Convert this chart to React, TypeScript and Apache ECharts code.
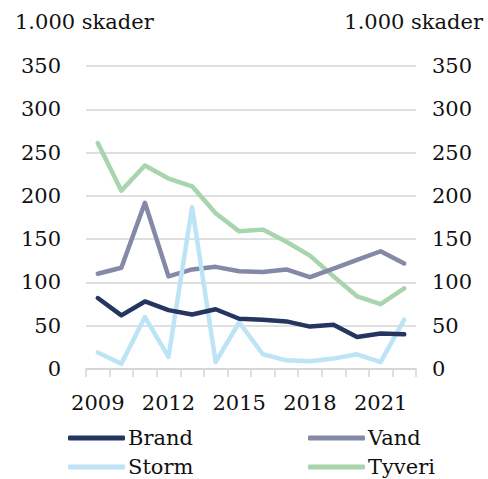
import React, { useEffect, useRef } from "react";
import * as echarts from "echarts";

const years = ["2009","2010","2011","2012","2013","2014","2015","2016","2017","2018","2019","2020","2021","2022"];
const brand = [82, 62, 78, 68, 63, 69, 58, 57, 55, 49, 51, 37, 41, 40];
const vand = [110, 117, 192, 107, 115, 118, 113, 112, 115, 106, 116, 126, 136, 122];
const storm = [19, 6, 60, 14, 187, 8, 54, 17, 10, 9, 12, 17, 8, 57];
const tyveri = [261, 206, 235, 220, 211, 180, 159, 161, 147, 131, 107, 84, 75, 93];
const yTicks = { min: 0, max: 350, interval: 50 };

const FONT = "DejaVu Serif";
const colors = { Brand: "#243660", Vand: "#8489a8", Storm: "#bde3f7", Tyveri: "#a8d4ae" };

export default function App() {
  const ref = useRef<HTMLDivElement>(null);
  useEffect(() => {
    document.body.style.margin = "0";
    const chart = echarts.init(ref.current!, null, { renderer: "svg" });
    const txt = { fontFamily: FONT, fontSize: 21, color: "#111" };
    const mk = (name: string, data: number[]) => ({
      name,
      type: "line",
      data,
      showSymbol: false,
      symbol: "none",
      lineStyle: { color: (colors as any)[name], width: 4.5, cap: "round", join: "round" },
      itemStyle: { color: (colors as any)[name] },
    });
    const legend = (name: string, left: number, top: number) => ({
      data: [name],
      left,
      top,
      icon: "roundRect",
      itemWidth: 57,
      itemHeight: 5,
      itemGap: 0,
      padding: 0,
      textStyle: { ...txt, lineHeight: 22, padding: [0, 0, 0, -2] },
    });
    const titleStyle = { ...txt, fontWeight: "normal" };
    chart.setOption({
      animation: false,
      textStyle: { fontFamily: FONT },
      grid: { left: 86, right: 72, top: 66, bottom: 110 },
      title: [
        { text: "1.000 skader", left: 15, top: 11, padding: 0, textStyle: titleStyle },
        { text: "1.000 skader", right: 5, top: 11, padding: 0, textStyle: titleStyle },
      ],
      legend: [
        legend("Brand", 68, 427),
        legend("Vand", 308, 427),
        legend("Storm", 68, 456),
        legend("Tyveri", 308, 456),
      ],
      xAxis: {
        type: "category",
        data: years,
        boundaryGap: true,
        axisLine: { lineStyle: { color: "#d4d4d4", width: 1.5 } },
        axisTick: { show: true, interval: 0, length: 8, lineStyle: { color: "#d4d4d4", width: 1.5 } },
        axisLabel: { ...txt, interval: 2, margin: 23 },
      },
      yAxis: [
        {
          type: "value",
          ...yTicks,
          axisLine: { show: false },
          axisTick: { show: false },
          splitLine: { lineStyle: { color: "#d4d4d4", width: 1.5 } },
          axisLabel: { ...txt, margin: 25 },
        },
        {
          type: "value",
          ...yTicks,
          position: "right",
          axisLine: { show: false },
          axisTick: { show: false },
          splitLine: { show: false },
          axisLabel: { ...txt, margin: 16 },
        },
      ],
      series: [mk("Tyveri", tyveri), mk("Vand", vand), mk("Storm", storm), mk("Brand", brand)],
    });
    return () => chart.dispose();
  }, []);
  return <div ref={ref} style={{ width: 488, height: 479 }} />;
}
